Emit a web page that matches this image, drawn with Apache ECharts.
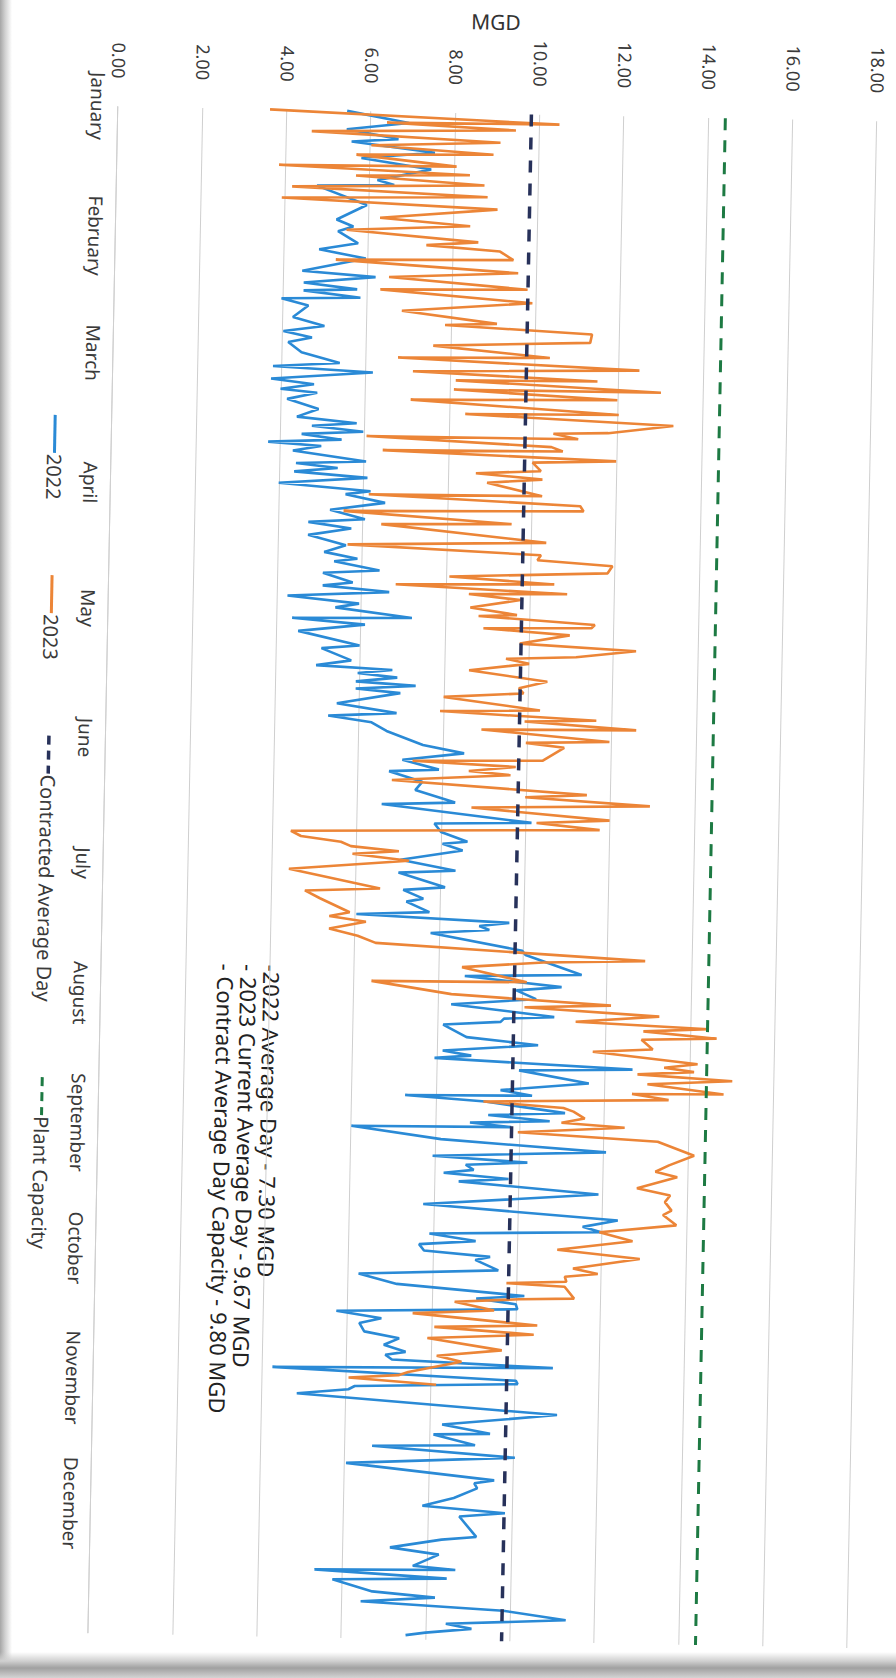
<!DOCTYPE html>
<html>
<head>
<meta charset="utf-8">
<script src="https://cdn.jsdelivr.net/npm/echarts@6/dist/echarts.min.js"></script>
<style>
html,body{margin:0;padding:0;width:896px;height:1678px;overflow:hidden;background:#fff;}
#edgeL{position:absolute;left:0;top:0;width:12px;height:1678px;background:linear-gradient(to right,#a6a6a6,#d0d0d0 5px,rgba(255,255,255,0));}
#edgeB{position:absolute;left:0;bottom:0;width:896px;height:26px;background:linear-gradient(to top,#d4d4d4 0,#a0a0a0 10px,#d0d0d0 17px,rgba(255,255,255,0));}
#chart{position:absolute;left:-391px;top:391px;width:1678px;height:896px;transform:rotate(91.12deg);transform-origin:50% 50%;}
</style>
</head>
<body>
<div id="edgeL"></div>
<div id="chart"></div>
<div id="edgeB"></div>
<script>
// ---- data (day of year, MGD) ----
const months = ['January','February','March','April','May','June','July','August','September','October','November','December'];
const monthStartDays = [0,31,59,90,120,151,181,212,243,273,304,334];
const mgdTicks = [0,2,4,6,8,10,12,14,16,18];

const days2022 = [0,2.6,4.4,6.5,7.3,9.6,11.2,13.6,16.4,17.5,18.0,22.4,26.0,27.6,28.8,31.6,33.2,35.2,38.4,39.6,41.2,42.6,43.1,44.6,45.1,46.7,49.5,51.5,
52.9,54.3,55.5,57.9,60.3,61.3,62.4,64.3,65.5,66.7,67.5,69.1,71.4,73.3,74.6,75.4,76.6,77.4,78.6,79.4,80.2,81.4,83.7,84.4,85.4,86.4,87.6,89.2,90.8,91.6,93.5,95.4,97.5,98.4,99.8,101.5,103.8,105.5,107.0,107.7,
109.7,110.5,112.7,113.5,114.8,116.1,117.7,118.7,120.9,121.4,122.7,124.5,127.7,128.5,131.3,132.6,133.4,134.3,135.2,136.3,137.1,138.0,138.9,141.6,143.7,144.6,146.0,148.0,151.2,153.0,154.8,157.0,157.6,160.0,162.0,
164.8,165.5,169.3,169.9,171.9,174.1,174.7,176.2,178.7,181.1,181.8,185.1,185.9,187.9,188.7,191.1,191.9,193.3,194.2,195.1,196.1,199.9,200.9,205.4,206.2,208.4,209.4,211.4,213.0,215.6,216.2,217.0,
217.9,220.8,222.4,224.1,225.2,225.9,227.8,228.5,231.3,233.3,234.5,234.9,236.1,238.5,239.3,240.5,241.2,242.1,242.5,245.3,247.7,249.3,250.5,251.3,252.5,253.3,254.5,255.3,257.8,260.9,263.9,265.6,266.8,267.9,269.5,270.5,272.0,
273.2,274.0,276.4,277.8,280.1,282.4,283.2,284.4,285.6,286.8,288.4,289.6,291.6,293.1,294.7,296.3,297.1,298.2,299.5,300.5,302.7,303.5,304.7,305.5,306.7,309.9,310.7,313.5,315.5,315.9,318.3,318.9,
321.1,323.1,326.6,327.4,328.6,331.0,333.0,334.4,335.4,340.2,341.0,343.1,344.6,347.4,348.2,348.7,350.3,351.0,353.7,354.9,356.1,357.7,359.7,361.1,362.2,363.3,364.0];
const mgd2022 = [5.43,6.90,5.43,6.66,5.55,7.53,5.79,7.45,6.18,6.58,4.75,5.94,5.23,5.63,5.27,5.75,4.83,5.94,4.44,6.18,4.48,5.75,4.48,5.83,3.96,4.60,4.24,4.99,
4.02,4.70,4.14,4.46,5.37,3.79,6.16,3.75,4.77,3.98,4.85,4.14,4.89,4.38,5.80,4.74,5.96,4.50,5.45,3.71,4.97,4.30,6.04,4.38,5.37,4.34,6.08,3.98,6.16,5.57,6.51,5.21,6.04,4.70,5.72,4.70,5.60,5.09,5.88,5.33,
6.41,5.07,5.78,5.07,6.65,4.24,5.94,5.38,7.20,4.36,6.09,4.51,5.97,5.07,5.78,4.95,6.76,5.94,6.88,5.90,7.32,5.90,6.96,5.46,6.88,5.26,6.29,6.65,7.52,8.50,7.04,7.91,6.73,7.52,7.36,
8.31,6.57,10.13,7.83,7.99,8.62,8.03,8.51,7.04,8.35,7.00,8.11,7.12,7.60,7.20,7.75,6.02,9.65,8.94,9.18,7.79,9.97,10.05,11.39,8.62,10.92,9.85,10.32,8.31,10.76,9.57,9.49,
8.13,8.69,10.39,8.13,8.81,7.94,12.64,9.95,11.61,9.52,10.27,7.26,9.16,11.06,9.24,10.70,8.81,9.79,6.00,8.13,12.05,7.94,10.19,8.73,8.92,8.21,9.75,8.57,11.89,7.74,12.36,11.53,11.97,7.90,9.00,7.66,7.78,
9.35,9.00,9.55,6.24,7.15,10.18,9.04,9.98,10.02,5.73,6.80,6.28,6.40,7.23,6.87,7.39,6.91,7.07,10.89,4.24,10.02,10.06,6.20,6.05,4.83,9.75,11.01,8.29,9.43,8.09,9.08,6.64,
10.03,6.03,9.55,9.08,9.15,8.60,7.86,9.82,8.74,9.15,8.33,7.11,8.27,7.66,8.67,5.33,8.47,5.76,6.71,8.20,6.44,9.82,11.31,8.47,9.08,7.99,7.52];

const days2023 = [0.0,2.3,2.6,3.9,5.0,6.9,8.1,9.8,10.4,12.8,13.2,14.8,15.4,17.2,18.3,20.0,21.0,22.9,25.4,27.0,28.4,30.8,31.7,32.9,34.9,35.6,38.0,39.5,41.9,42.5,45.1,47.5,50.2,50.7,52.3,
54.3,55.7,58.1,58.7,60.7,61.9,63.5,63.9,65.9,66.1,67.9,68.7,71.4,71.9,73.8,75.8,76.2,77.4,77.6,79.4,80.4,80.9,82.5,83.2,85.2,86.0,87.2,88.2,91.2,91.5,93.4,94.6,95.6,98.0,98.6,102.3,103.6,105.3,106.5,107.6,
109.3,110.8,112.2,112.9,114.5,114.9,116.1,118.1,119.7,120.1,121.7,122.5,123.0,124.3,126.5,127.8,129.5,130.2,131.3,133.1,135.5,137.2,138.4,139.6,142.4,143.0,144.6,145.1,146.7,147.2,149.6,150.2,151.2,154.4,155.0,156.0,157.2,158.0,159.7,
162.4,163.2,164.8,165.9,168.4,169.3,170.7,172.3,173.5,174.7,175.7,176.7,177.5,178.9,181.4,185.7,186.5,188.3,191.5,192.5,193.7,195.5,197.1,198.7,201.8,202.6,204.1,207.4,207.8,210.6,212.6,213.4,215.0,216.6,
217.8,218.6,220.0,220.6,222.9,223.7,226.2,227.2,228.1,228.9,230.1,231.2,233.3,233.6,234.9,236.1,237.3,238.1,239.7,240.8,241.7,243.3,244.9,248.1,250.5,252.1,253.3,256.1,257.7,259.3,261.3,262.4,264.8,266.8,268.8,271.2,
273.0,275.6,276.8,277.6,278.8,279.4,280.0,282.8,283.2,284.1,286.0,287.0,289.4,290.2,291.6,292.9,295.5,297.1,298.4,301.1,301.9,302.7,304.0];
const mgd2023 = [3.60,10.47,6.38,9.44,4.60,9.08,6.02,8.92,5.67,8.05,3.84,8.37,5.67,8.72,4.16,8.80,3.92,9.04,6.26,8.40,5.47,8.60,7.37,9.12,9.44,5.23,9.56,6.50,9.79,6.30,9.91,6.82,9.08,7.85,11.34,
11.30,7.58,10.35,6.75,12.48,7.11,11.49,8.13,13.00,8.09,11.97,7.07,12.01,8.37,13.31,11.77,10.47,11.06,6.04,10.43,10.70,6.43,11.97,9.99,10.19,8.65,10.23,8.92,10.23,6.12,11.14,11.22,5.53,9.52,6.43,10.35,5.64,10.23,10.15,11.93,
11.82,8.07,10.56,6.80,10.87,8.54,9.77,8.58,9.69,8.78,11.54,11.46,8.90,10.95,9.77,12.53,11.11,9.45,10.00,8.58,10.44,9.77,9.88,7.99,10.28,7.91,11.62,9.92,12.57,8.90,11.94,9.96,10.87,10.36,7.28,9.73,8.62,9.61,6.80,
11.43,9.97,12.93,8.70,11.98,10.25,11.75,4.43,4.67,5.62,5.86,7.00,5.90,7.24,4.40,6.57,4.79,5.15,5.86,5.38,6.25,5.38,6.06,6.49,12.89,10.48,8.55,10.09,6.41,8.31,12.10,10.05,13.25,11.27,
14.42,12.88,14.62,12.84,13.11,11.69,14.18,13.39,14.10,12.76,15.01,13.00,14.81,12.64,13.51,9.12,11.02,11.26,11.53,10.98,12.48,9.95,13.27,14.14,13.55,13.23,13.75,12.80,13.59,13.47,13.63,13.43,13.75,11.93,12.72,10.94,
12.90,11.32,11.91,11.13,11.17,9.75,11.13,11.36,10.06,8.53,9.47,7.54,10.50,8.06,10.42,7.90,9.67,8.13,8.72,7.46,7.23,6.05,8.13];

const contractedAverageDay = 9.80;
const plantCapacity = 14.40;
const refLineDays = [0, 365];
const notes = ['-2022 Average Day - 7.30 MGD', '- 2023 Current Average Day - 9.67 MGD', '- Contract Average Day Capacity - 9.80 MGD'];

// ---- chart ----
const FONT = '"Noto Sans", "Open Sans", sans-serif';
const BLUE = '#2a8ad6', ORANGE = '#ec8537', NAVY = '#27315a', GREEN = '#1d7a43';
const zip = (a, b) => a.map((d, i) => [d, b[i]]);

const chart = echarts.init(document.getElementById('chart'), null, {renderer: 'svg'});
chart.setOption({
  animation: false,
  textStyle: {fontFamily: FONT},
  grid: {left: 113, right: 38, top: 33, bottom: 104},
  xAxis: {
    type: 'value', min: 0, max: 365,
    axisLine: {show: true, lineStyle: {color: '#cfcfcf', width: 1}},
    axisTick: {show: false},
    splitLine: {show: false},
    axisLabel: {
      customValues: monthStartDays,
      formatter: v => months[monthStartDays.indexOf(v)],
      fontSize: 19, color: '#3a3a3a', margin: 11, fontFamily: FONT
    }
  },
  yAxis: {
    type: 'value', min: mgdTicks[0], max: mgdTicks[mgdTicks.length - 1], interval: 2,
    axisLine: {show: false}, axisTick: {show: false},
    splitLine: {lineStyle: {color: '#cfcfcf', width: 1}},
    axisLabel: {formatter: v => v.toFixed(2), fontSize: 18, color: '#3a3a3a', margin: 28, fontFamily: FONT}
  },
  legend: {
    left: 'center', bottom: 32, itemWidth: 38, itemHeight: 20, itemGap: 74,
    itemStyle: {opacity: 0},
    textStyle: {fontSize: 20, color: '#3a3a3a', fontFamily: FONT, padding: [0, 0, 0, -4]},
    data: [
      {name: '2022', lineStyle: {width: 3}},
      {name: '2023', lineStyle: {width: 3}},
      {name: 'Contracted Average Day', lineStyle: {type: [9, 6], width: 3.5}},
      {name: 'Plant Capacity', lineStyle: {type: [9, 6], width: 3}}
    ]
  },
  graphic: [
    {type: 'text', x: 21, y: 416, rotation: Math.PI / 2,
     style: {text: 'MGD', fontSize: 21, fill: '#333', align: 'center', verticalAlign: 'middle', fontFamily: FONT}},
    {type: 'text', x: 968, y: 621, style: {text: notes[0], fontSize: 22, fill: '#222', verticalAlign: 'middle', fontFamily: FONT}},
    {type: 'text', x: 968, y: 644, style: {text: notes[1], fontSize: 22, fill: '#222', verticalAlign: 'middle', fontFamily: FONT}},
    {type: 'text', x: 968, y: 667, style: {text: notes[2], fontSize: 22, fill: '#222', verticalAlign: 'middle', fontFamily: FONT}}
  ],
  series: [
    {name: '2022', type: 'line', data: zip(days2022, mgd2022), symbol: 'none',
     lineStyle: {color: BLUE, width: 2.6}, itemStyle: {color: BLUE}},
    {name: '2023', type: 'line', data: zip(days2023, mgd2023), symbol: 'none',
     lineStyle: {color: ORANGE, width: 2.6}, itemStyle: {color: ORANGE}},
    {name: 'Contracted Average Day', type: 'line', data: refLineDays.map(d => [d, contractedAverageDay]), symbol: 'none',
     lineStyle: {color: NAVY, width: 3.5, type: [12, 11]}, itemStyle: {color: NAVY}},
    {name: 'Plant Capacity', type: 'line', data: refLineDays.map(d => [d, plantCapacity]), symbol: 'none',
     lineStyle: {color: GREEN, width: 3, type: [12, 10]}, itemStyle: {color: GREEN}}
  ]
});
</script>
</body>
</html>
